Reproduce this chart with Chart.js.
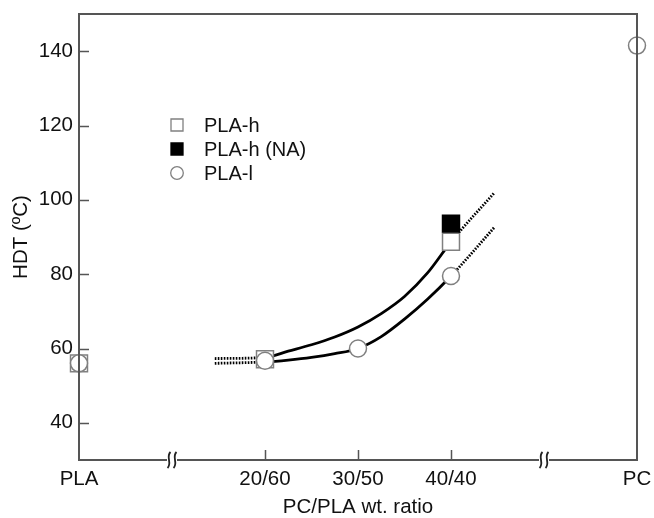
<!DOCTYPE html>
<html>
<head>
<meta charset="utf-8">
<script src="https://cdn.jsdelivr.net/npm/chart.js@4"></script>
<style>
  html, body { margin: 0; padding: 0; background: #fff; }
</style>
</head>
<body>
<canvas id="hdtChart" width="654" height="518"></canvas>
<script>
// --- DATA ---
const xLabels = ['PLA', '20/60', '30/50', '40/40', 'PC'];
const xPos = [0, 2, 3, 4, 6];          // category positions on the broken axis
const breakAt = [1, 5];                // axis break marks
const yTicks = [40, 60, 80, 100, 120, 140];

const plaH = [56, 57.1, null, 88.7, null];
const plaHNA = [null, null, null, 93.6, null];
const plaL = [56, 56.7, 60, 79.5, 141.5];

// fitted trend curves (dotted at both ends)
const fitX = [1.46, 2, 2.25, 2.5, 2.75, 3, 3.25, 3.5, 3.75, 4, 4.47];
const fitH = [57.3, 57.6, 59.3, 61, 63.1, 65.8, 69.4, 74, 80.4, 88.7, 102];
const fitL = [56, 56.4, 56.9, 57.6, 58.6, 60, 63.2, 67.9, 73.3, 79.5, 92.7];

const FONT = "'Liberation Sans', Arial, sans-serif";
const AXIS_COLOR = '#555';
const MARK_COLOR = '#808080';

const toXY = (vals) => xPos.map((x, i) => ({ x, y: vals[i] })).filter(p => p.y !== null);
const fitXY = (vals) => fitX.map((x, i) => ({ x, y: vals[i] }));
const lastSeg = fitX.length - 1;
const dotted = ctx => (ctx.p0DataIndex === 0 || ctx.p1DataIndex === lastSeg) ? [1.6, 1.4] : undefined;

// --- frame, inward ticks, axis breaks ---
const framePlugin = {
    id: 'frame',
    afterDatasetsDraw(chart) {
        const { ctx, chartArea: a, scales: { x, y } } = chart;
        ctx.save();
        ctx.strokeStyle = AXIS_COLOR;
        ctx.lineWidth = 2;
        ctx.strokeRect(a.left, a.top, a.right - a.left, a.bottom - a.top);

        ctx.lineWidth = 1.5;
        ctx.beginPath();
        yTicks.forEach(v => {
            const py = Math.round(y.getPixelForValue(v)) + 0.5;
            ctx.moveTo(a.left, py);
            ctx.lineTo(a.left + 10, py);
        });
        xPos.slice(1, 4).forEach(v => {
            const px = Math.round(x.getPixelForValue(v)) + 0.5;
            ctx.moveTo(px, a.bottom);
            ctx.lineTo(px, a.bottom - 10);
        });
        ctx.stroke();

        // break marks (two little wavy strokes)
        breakAt.forEach(v => {
            const cx = x.getPixelForValue(v);
            const by = a.bottom;
            ctx.fillStyle = '#fff';
            ctx.fillRect(cx - 5, by - 3, 10, 6);
            ctx.strokeStyle = '#222';
            ctx.lineWidth = 1.8;
            [-3, 3].forEach(dx => {
                const c = cx + dx;
                ctx.beginPath();
                ctx.moveTo(c + 1.5, by - 8);
                ctx.bezierCurveTo(c - 3.5, by - 3, c + 3.5, by + 3, c - 1.5, by + 8);
                ctx.stroke();
            });
        });
        ctx.restore();
    },
    afterDraw(chart) {
        // legend
        const { ctx } = chart;
        const items = [
            { label: 'PLA-h', shape: 'rect', fill: '#fff', stroke: MARK_COLOR },
            { label: 'PLA-h (NA)', shape: 'rect', fill: '#000', stroke: '#000' },
            { label: 'PLA-l', shape: 'circle', fill: '#fff', stroke: MARK_COLOR }
        ];
        ctx.save();
        ctx.font = '20px ' + FONT;
        ctx.textBaseline = 'middle';
        items.forEach((it, i) => {
            const mx = 177, my = 125 + i * 24;
            ctx.fillStyle = it.fill;
            ctx.strokeStyle = it.stroke;
            ctx.lineWidth = 1.3;
            ctx.beginPath();
            if (it.shape === 'rect') ctx.rect(mx - 6, my - 6, 12, 12);
            else ctx.arc(mx, my, 6.3, 0, Math.PI * 2);
            ctx.fill();
            ctx.stroke();
            ctx.fillStyle = '#111';
            ctx.fillText(it.label, 204, my + 1);
        });
        ctx.restore();
    }
};

const markerBase = {
    type: 'scatter',
    showLine: false,
    borderWidth: 1.5,
    clip: false
};

const curveBase = {
    type: 'line',
    borderColor: '#000',
    borderWidth: 2.8,
    pointRadius: 0,
    cubicInterpolationMode: 'monotone',
    fill: false,
    order: 3,
    segment: { borderDash: dotted }
};

new Chart(document.getElementById('hdtChart'), {
    type: 'scatter',
    data: {
        datasets: [
            { ...curveBase, label: 'fit PLA-h', data: fitXY(fitH) },
            { ...curveBase, label: 'fit PLA-l', data: fitXY(fitL) },
            {
                ...markerBase, label: 'PLA-h', data: toXY(plaH), order: 2,
                pointStyle: 'rect', pointRadius: 12, pointHoverRadius: 12,
                backgroundColor: '#fff', borderColor: MARK_COLOR
            },
            {
                ...markerBase, label: 'PLA-l', data: toXY(plaL), order: 1,
                pointStyle: 'circle', pointRadius: 8.5, pointHoverRadius: 8.5,
                backgroundColor: '#fff', borderColor: MARK_COLOR
            },
            {
                ...markerBase, label: 'PLA-h (NA)', data: toXY(plaHNA), order: 0,
                pointStyle: 'rect', pointRadius: 12, pointHoverRadius: 12,
                backgroundColor: '#000', borderColor: '#000'
            }
        ]
    },
    options: {
        responsive: false,
        animation: false,
        layout: { padding: { top: 14, right: 17, left: 0, bottom: 0 } },
        plugins: { legend: { display: false }, tooltip: { enabled: false } },
        scales: {
            x: {
                type: 'linear', min: 0, max: 6,
                grid: { display: false, drawTicks: false },
                border: { display: false },
                afterFit: s => { s.height = 58; s.paddingLeft = 0; s.paddingRight = 0; },
                afterBuildTicks: s => { s.ticks = xPos.map(v => ({ value: v })); },
                ticks: {
                    padding: 7, maxRotation: 0, autoSkip: false,
                    color: '#111', font: { family: FONT, size: 20.5 },
                    callback: v => xLabels[xPos.indexOf(v)]
                },
                title: {
                    display: true, text: 'PC/PLA wt. ratio', color: '#111',
                    font: { family: FONT, size: 20.5, lineHeight: 1 },
                    padding: { top: 0, bottom: 0 }
                }
            },
            y: {
                type: 'linear', min: 30, max: 150,
                grid: { display: false, drawTicks: false },
                border: { display: false },
                afterFit: s => { s.width = 79; s.paddingTop = 0; s.paddingBottom = 0; },
                afterBuildTicks: s => { s.ticks = yTicks.map(v => ({ value: v })); },
                ticks: {
                    padding: 6, color: '#111', font: { family: FONT, size: 20.5 }
                },
                title: {
                    display: true, text: 'HDT (ºC)', color: '#111',
                    font: { family: FONT, size: 20.5, lineHeight: 1 },
                    padding: { top: 11, bottom: 0 }
                }
            }
        }
    },
    plugins: [framePlugin]
});
</script>
</body>
</html>
